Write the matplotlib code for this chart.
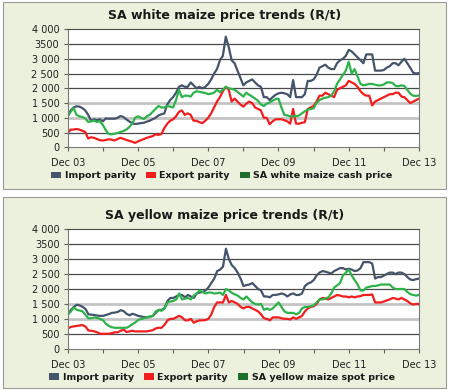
import matplotlib
matplotlib.use("Agg")
import matplotlib.pyplot as plt
from matplotlib.patches import Rectangle, Patch

# Monthly values, Dec 03 (index 0) to Dec 13 (index 120), R/t
white_import = [1050, 1250, 1350, 1390, 1380, 1330, 1250, 1100, 900, 950, 920, 950,
                880, 980, 970, 970, 970, 1000, 1060, 1030, 950, 880, 820, 790,
                800, 820, 830, 870, 900, 950, 1000, 1080, 1120, 1150, 1450, 1600,
                1700, 1850, 2050, 2100, 2050, 2050, 2200, 2100, 2000, 2050, 2000, 2050,
                2150, 2300, 2500, 2650, 2950, 3100, 3750, 3400, 2950, 2850, 2600, 2350,
                2100, 2200, 2250, 2300, 2200, 2100, 2050, 1700, 1700, 1600, 1700, 1780,
                1830, 1850, 1830, 1800, 1700, 2280, 1700, 1700, 1700, 1800, 2250, 2250,
                2300, 2450, 2700, 2750, 2800, 2700, 2650, 2650, 2850, 2950, 3000, 3100,
                3300, 3250, 3150, 3050, 2950, 2850, 3150, 3150, 3150, 2600, 2600, 2600,
                2620, 2700, 2750, 2850, 2850, 2780, 2900, 3000, 2850, 2700, 2530, 2500,
                2520]
white_export = [480, 600, 600, 620, 600, 560, 520, 300, 340, 320, 280, 240,
                230, 250, 270, 260, 230, 280, 320, 290, 250, 220, 190, 150,
                200, 240, 280, 320, 350, 380, 440, 420, 450, 650, 800, 900,
                950, 1050, 1200, 1250, 1100, 1150, 1100, 900, 900, 850, 820, 900,
                1000, 1150, 1350, 1550, 1700, 1900, 2050, 1950, 1550, 1650, 1550, 1450,
                1380, 1480, 1550, 1500, 1350, 1300, 1250, 1000, 1000, 780, 880, 950,
                950, 950, 920, 880, 800, 1300, 800, 800, 830, 850, 1300, 1350,
                1400, 1550, 1750, 1750, 1850, 1800, 1750, 1700, 1950, 2000, 2050, 2100,
                2250, 2200, 2150, 2050, 1900, 1800, 1750, 1750, 1420, 1550, 1600, 1650,
                1700, 1750, 1800, 1800, 1850, 1850, 1720, 1700, 1600, 1500, 1550, 1600,
                1650]
white_cash = [1050, 1200, 1330, 1100, 1050, 1030, 980, 860, 880, 900, 860, 880,
              760, 580, 450, 440, 460, 480, 520, 550, 600, 680, 800, 1000,
              1050, 1000, 960, 1050, 1100, 1200, 1300, 1400, 1350, 1350, 1400, 1380,
              1350, 1600, 1950, 1700, 1750, 1750, 1720, 1850, 1900, 1880, 1860, 1840,
              1800, 1820, 1850, 1950, 1870, 1950, 2050, 2000, 1980, 1950, 1880, 1800,
              1720, 1850, 1780, 1720, 1650, 1580, 1450, 1400, 1480, 1520, 1580, 1630,
              1650, 1350, 1100, 1080, 1050, 1050, 1050, 1080, 1150, 1220, 1280, 1300,
              1320, 1500, 1600, 1650, 1680, 1700, 1750, 1900, 2150, 2300, 2450, 2600,
              2900, 2500, 2650, 2400, 2150, 2100, 2120, 2150, 2150, 2120, 2100, 2100,
              2130, 2200, 2200, 2180, 2080, 2070, 2100, 2080, 1950, 1820, 1750, 1740,
              1760]

yellow_import = [1150, 1300, 1400, 1470, 1450, 1400, 1330, 1150, 1140, 1130, 1110, 1100,
                 1100, 1130, 1160, 1200, 1210, 1230, 1290, 1260, 1170, 1120, 1170, 1140,
                 1100, 1080, 1060, 1050, 1070, 1100, 1200, 1300, 1300, 1350, 1600, 1700,
                 1700, 1750, 1800, 1800, 1720, 1800, 1750, 1700, 1850, 1880, 1900, 1950,
                 2050, 2200, 2350, 2600, 2650, 2750, 3350, 3000, 2800, 2700, 2550, 2350,
                 2100, 2130, 2150, 2200, 2100, 2000, 1950, 1750, 1750, 1720, 1800, 1800,
                 1820, 1850, 1820, 1750, 1820, 1850, 1800, 1800, 1850, 2100, 2180, 2220,
                 2300, 2450, 2550, 2600, 2580, 2550, 2520, 2600, 2650, 2700, 2700, 2650,
                 2680, 2650, 2600, 2620, 2700, 2900, 2900, 2900, 2850, 2350, 2400, 2400,
                 2450, 2500, 2550, 2550, 2500, 2550, 2550, 2500, 2400, 2320, 2300, 2330,
                 2350]
yellow_export = [680, 730, 750, 760, 780, 790, 740, 610, 600, 580, 550, 500,
                 500, 500, 500, 520, 550, 550, 600, 640, 560, 580, 600, 580,
                 580, 580, 580, 580, 600, 620, 680, 700, 700, 800, 950, 1000,
                 1000, 1050, 1100, 1050, 950, 950, 1000, 870, 920, 950, 950, 960,
                 1000, 1150, 1400, 1550, 1550, 1550, 1800, 1550, 1600, 1550, 1500, 1400,
                 1350, 1400, 1400, 1350, 1300, 1250, 1150, 1020, 1000, 950, 1050, 1050,
                 1050, 1020, 1000, 1000, 980, 1050, 1000, 1050, 1100, 1250, 1350, 1400,
                 1420, 1500, 1650, 1700, 1680, 1650, 1700, 1750, 1800, 1780, 1750, 1750,
                 1720, 1750, 1720, 1750, 1760, 1800, 1800, 1800, 1820, 1550, 1550, 1550,
                 1580, 1620, 1650, 1700, 1680, 1650, 1700, 1650, 1600, 1520, 1480, 1500,
                 1500]
yellow_spot = [1150, 1250, 1380, 1300, 1280, 1250, 1130, 1020, 1020, 1050, 1030, 1000,
               950, 830, 760, 720, 700, 700, 700, 700, 700, 750, 820, 880,
               960, 1000, 1020, 1050, 1080, 1100, 1250, 1300, 1270, 1350, 1550, 1580,
               1600, 1650, 1850, 1650, 1680, 1700, 1650, 1780, 1850, 1950, 1900, 1850,
               1880, 1880, 1850, 1860, 1880, 1800, 2000, 1950, 1870, 1820, 1780, 1700,
               1650, 1750, 1650, 1550, 1500, 1480, 1500, 1300, 1350, 1300, 1350, 1450,
               1550, 1400, 1250, 1200, 1200, 1200, 1150, 1200, 1350, 1400, 1400, 1420,
               1450, 1550, 1650, 1650, 1680, 1720, 1850, 2050, 2120, 2200, 2450, 2550,
               2650, 2450, 2300, 2150, 1950, 1950, 2050, 2070, 2100, 2100, 2120, 2150,
               2150, 2150, 2150, 2050, 2000, 2000, 2000, 2000, 1900, 1830, 1800, 1780,
               1800]

x_labels = ["Dec 03", "Dec 05", "Dec 07", "Dec 09", "Dec 11", "Dec 13"]
y_ticks = [0, 500, 1000, 1500, 2000, 2500, 3000, 3500, 4000]
y_labels = ["0", "500", "1 000", "1 500", "2 000", "2 500", "3 000", "3500", "4 000"]

C_IMPORT = "#44546a"
C_EXPORT = "#f21d1d"
C_LOCAL = "#2db34a"
C_LOCAL_KEY = "#1f6e2c"
PANEL_BG = "#ebf1dc"

W, H = 450, 390
fig = plt.figure(figsize=(W / 100, H / 100), dpi=100)
fig.patch.set_facecolor("white")


def px_box(x0, y0, x1, y1):
    # pixel box (top-left origin) -> figure fraction [left, bottom, width, height]
    return [x0 / W, 1 - y1 / H, (x1 - x0) / W, (y1 - y0) / H]


def panel(y0, y1, ax_box, title, title_y, s_import, s_export, s_local, local_name, legend_y):
    l, b, w, h = px_box(3, y0, 446, y1)
    fig.patches.append(Rectangle((l, b), w, h, transform=fig.transFigure, zorder=-10,
                                 facecolor=PANEL_BG, edgecolor="#9a9a9a", linewidth=0.8))
    ax = fig.add_axes(px_box(*ax_box))
    ax.set_zorder(1)
    ax.set_facecolor("white")
    x = list(range(len(s_import)))
    ax.plot(x, s_import, color=C_IMPORT, lw=1.6, solid_joinstyle="round")
    ax.plot(x, s_export, color=C_EXPORT, lw=1.6, solid_joinstyle="round")
    ax.plot(x, s_local, color=C_LOCAL, lw=1.6, solid_joinstyle="round")

    ax.set_xlim(0, 120)
    ax.set_ylim(0, 4000)
    ax.set_xticks(range(0, 121, 24))
    ax.set_xticklabels(x_labels)
    ax.set_xticks(range(0, 121, 12), minor=True)
    ax.set_yticks(y_ticks)
    ax.set_yticklabels(y_labels)
    ax.tick_params(axis="both", which="both", direction="out", length=3,
                   width=0.8, color="#606060", labelsize=7, labelcolor="#202020")
    ax.tick_params(axis="x", pad=5)
    ax.tick_params(axis="y", pad=3)

    # horizontal gridlines: 1 000 and 1 500 lighter and thicker
    for v in y_ticks[1:-1]:
        if v in (1000, 1500):
            ax.axhline(v, color="#c4c4c4", lw=2.0, zorder=0)
        else:
            ax.axhline(v, color="#4a4a4a", lw=0.9, zorder=0)
    for side in ax.spines.values():
        side.set_color("#7a7a7a")
        side.set_linewidth(0.8)
    ax.spines["top"].set_color("#4a4a4a")

    fig.text(225 / W, 1 - title_y / H, title, ha="center", va="center",
             fontsize=9, fontweight="bold", color="#1a1a1a")

    handles = [Patch(facecolor=C_IMPORT), Patch(facecolor=C_EXPORT), Patch(facecolor=C_LOCAL_KEY)]
    names = ["Import parity", "Export parity", local_name]
    fig.legend(handles, names, loc="center", bbox_to_anchor=(222 / W, 1 - legend_y / H),
               ncol=3, frameon=False, handlelength=1.0, handleheight=0.7,
               handletextpad=0.4, columnspacing=1.1,
               prop={"size": 6.8, "weight": "bold"}, labelcolor="#1a1a1a")
    return ax


panel(2, 189, (67.7, 29.3, 419, 147.3), "SA white maize price trends (R/t)", 15,
      white_import, white_export, white_cash, "SA white maize cash price", 176)
panel(197, 388, (68, 229.3, 419, 348.7), "SA yellow maize price trends (R/t)", 216,
      yellow_import, yellow_export, yellow_spot, "SA yellow maize spot price", 377)

fig.savefig("out.png", dpi=100, facecolor=fig.get_facecolor())
